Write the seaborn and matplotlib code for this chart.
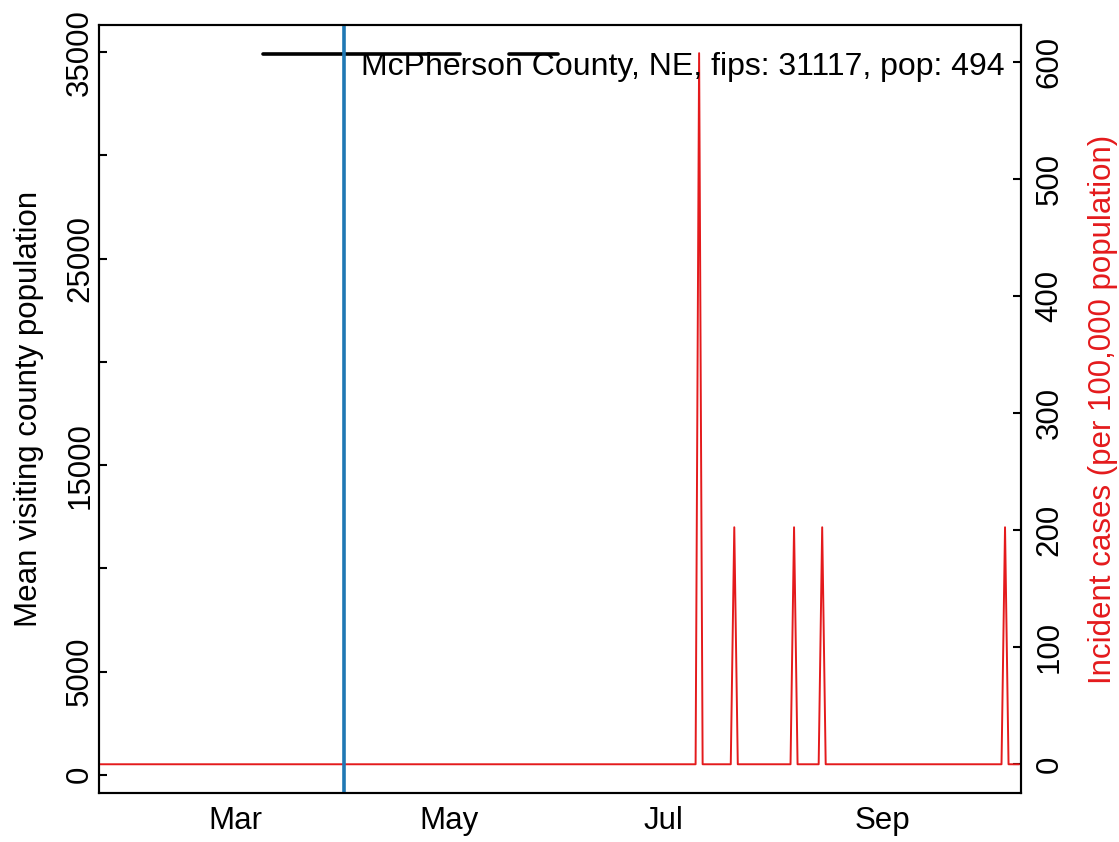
import numpy as np
import pandas as pd
import matplotlib
matplotlib.use("Agg")
import matplotlib.pyplot as plt
import seaborn as sns

# values
case_start, case_end = "2020-01-22", "2020-10-10"
spike_days = ["2020-07-11", "2020-07-21", "2020-08-07", "2020-08-15", "2020-10-06"]
spike_vals = [607.3, 202.4, 202.4, 202.4, 202.4]   # per 100,000 (1 or 3 cases, pop 494)

visit_start = ["2020-03-09", "2020-05-18"]
visit_end = ["2020-05-04", "2020-06-01"]
visit_level = [34930, 34930]

policy_date = "2020-04-01"
label_text = "McPherson County, NE, fips: 31117, pop: 494"

left_ticks = [0, 5000, 10000, 15000, 20000, 25000, 30000, 35000]
left_labels = ["0", "5000", "", "15000", "", "25000", "", "35000"]
right_ticks = [0, 100, 200, 300, 400, 500, 600]
month_ticks = ["2020-03-01", "2020-05-01", "2020-07-01", "2020-09-01"]
month_labels = ["Mar", "May", "Jul", "Sep"]

# daily incident cases
days = pd.date_range(case_start, case_end, freq="D")
cases = pd.DataFrame({"date": days, "rate": 0.0})
for d, v in zip(spike_days, spike_vals):
    cases.loc[cases["date"] == pd.Timestamp(d), "rate"] = v

sns.set_style("white")
plt.rcParams["font.family"] = ["Liberation Sans", "DejaVu Sans"]
plt.rcParams["text.color"] = "black"
plt.rcParams["xtick.color"] = "black"
plt.rcParams["ytick.color"] = "black"
plt.rcParams["axes.labelcolor"] = "black"

fig = plt.figure(figsize=(11.19, 8.42), dpi=100)
ax = fig.add_axes([99.3 / 1119, 1 - 793.3 / 842, 921.4 / 1119, 768 / 842])
ax2 = ax.twinx()

# mean visiting county population
for s, e, lev in zip(visit_start, visit_end, visit_level):
    seg = pd.DataFrame({"date": pd.to_datetime([s, e]), "pop": [lev, lev]})
    sns.lineplot(data=seg, x="date", y="pop", ax=ax, color="black", lw=2.6,
                 solid_capstyle="round")

# incident cases
sns.lineplot(data=cases, x="date", y="rate", ax=ax2, color="#e41a1c", lw=1.4)
ax2.axvline(pd.Timestamp(policy_date), color="#1f78b4", lw=2.6)

ax.set_xlim(pd.Timestamp("2020-01-22 10:00"), pd.Timestamp("2020-10-10 11:00"))
ax.set_ylim(-901, 36308)
ax2.set_ylim(-24.8, 631.1)

ax.set_xticks(pd.to_datetime(month_ticks))
ax.set_xticklabels(month_labels)
ax.set_yticks(left_ticks)
ax.set_yticklabels(left_labels, rotation=90, va="center")
ax2.set_yticks(right_ticks)
ax2.set_yticklabels([str(t) for t in right_ticks], rotation=90, va="center")

ax.tick_params(axis="both", direction="in", length=6, width=1.5, labelsize=22.5)
ax.tick_params(axis="x", pad=9)
ax.tick_params(axis="y", pad=3)
ax2.tick_params(axis="y", direction="in", length=6, width=1.5, labelsize=22.5, pad=10)

ax.set_xlabel("")
ax.set_ylabel("Mean visiting county population", fontsize=22.5, labelpad=15)
ax2.set_ylabel("Incident cases (per 100,000 population)", fontsize=22.5, color="#e41a1c",
               labelpad=17)

for a in (ax, ax2):
    for sp in a.spines.values():
        sp.set_visible(True)
        sp.set_color("black")
        sp.set_linewidth(1.5)

ax2.text(0.983, 0.9353, label_text, transform=ax2.transAxes, ha="right",
         va="baseline", fontsize=23)

fig.savefig("out.png", dpi=100)
